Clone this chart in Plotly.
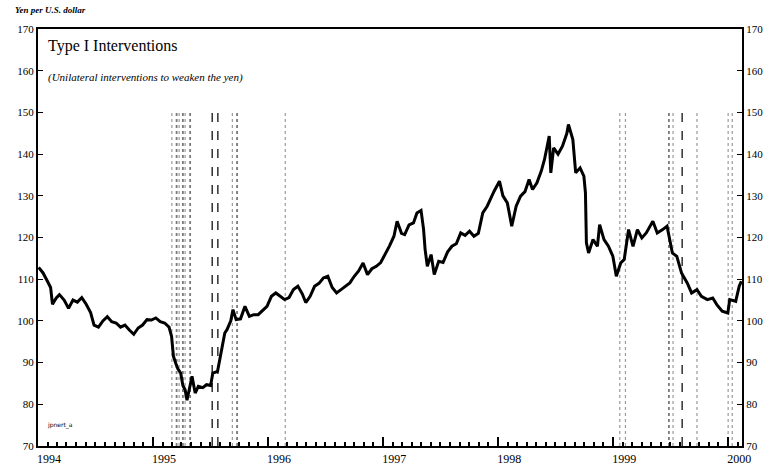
import plotly.graph_objects as go

# Yen per U.S. dollar
dates = [
    "1994-01-03","1994-01-17","1994-01-31","1994-02-10","1994-02-16","1994-02-28","1994-03-10","1994-03-25",
    "1994-04-08","1994-04-22","1994-05-06","1994-05-20","1994-06-03","1994-06-17","1994-06-28","1994-07-12",
    "1994-07-26","1994-08-09","1994-08-23","1994-09-06","1994-09-20","1994-10-04","1994-10-18","1994-11-01",
    "1994-11-15","1994-11-29","1994-12-13","1994-12-27","1995-01-10","1995-01-24","1995-02-07","1995-02-21",
    "1995-03-01","1995-03-07","1995-03-14","1995-03-21","1995-03-30","1995-04-06","1995-04-13","1995-04-19",
    "1995-04-26","1995-05-05","1995-05-15","1995-05-25","1995-06-08","1995-06-20","1995-07-03","1995-07-10",
    "1995-07-25","1995-08-03","1995-08-10","1995-08-17","1995-08-24","1995-09-05","1995-09-12","1995-09-22",
    "1995-10-06","1995-10-20","1995-11-03","1995-11-17","1995-12-01","1995-12-15","1995-12-29","1996-01-12",
    "1996-01-26","1996-02-09","1996-02-23","1996-03-08","1996-03-22","1996-04-05","1996-04-19","1996-04-30",
    "1996-05-14","1996-05-28","1996-06-11","1996-06-25","1996-07-09","1996-07-23","1996-08-06","1996-08-20",
    "1996-09-03","1996-09-17","1996-10-01","1996-10-15","1996-10-29","1996-11-12","1996-11-26","1996-12-10",
    "1996-12-24","1997-01-07","1997-01-21","1997-02-04","1997-02-14","1997-02-28","1997-03-10","1997-03-24",
    "1997-04-07","1997-04-18","1997-05-01","1997-05-09","1997-05-14","1997-05-21","1997-06-02","1997-06-12",
    "1997-06-26","1997-07-10","1997-07-24","1997-08-07","1997-08-21","1997-09-04","1997-09-18","1997-10-02",
    "1997-10-16","1997-10-30","1997-11-13","1997-11-27","1997-12-11","1997-12-19","1998-01-05","1998-01-16",
    "1998-01-30","1998-02-13","1998-02-27","1998-03-13","1998-03-27","1998-04-09","1998-04-20","1998-05-04",
    "1998-05-18","1998-05-28","1998-06-12","1998-06-17","1998-06-26","1998-07-10","1998-07-24","1998-08-07",
    "1998-08-12","1998-08-26","1998-09-04","1998-09-18","1998-09-30","1998-10-05","1998-10-08","1998-10-15",
    "1998-10-29","1998-11-12","1998-11-19","1998-12-03","1998-12-17","1998-12-31","1999-01-11","1999-01-25",
    "1999-02-05","1999-02-19","1999-03-05","1999-03-19","1999-04-02","1999-04-16","1999-05-07","1999-05-21",
    "1999-06-07","1999-06-21","1999-07-08","1999-07-22","1999-08-06","1999-08-24","1999-09-07","1999-09-24",
    "1999-10-08","1999-10-27","1999-11-13","1999-11-26","1999-12-13","1999-12-31","2000-01-06","2000-01-25",
    "2000-02-05","2000-02-12",
]
yen = [
    112.8,111.5,109.5,108.0,104.0,105.5,106.3,105.0,
    103.0,105.0,104.5,105.6,104.0,102.0,99.0,98.5,
    100.0,101.0,99.8,99.5,98.5,99.0,97.8,96.8,
    98.3,99.0,100.3,100.2,100.7,99.8,99.5,98.5,
    96.3,91.5,89.9,88.5,87.5,84.5,83.5,81.0,
    83.5,86.7,82.7,84.3,84.0,84.7,84.5,87.5,
    87.9,91.5,95.0,97.1,97.9,100.0,102.7,100.3,
    100.5,103.5,101.1,101.5,101.5,102.5,103.5,105.9,
    106.7,105.9,105.1,105.6,107.5,108.3,106.5,104.4,
    105.9,108.3,109.0,110.3,110.7,108.0,106.7,107.5,
    108.3,109.1,110.7,112.0,113.9,111.1,112.5,113.1,
    114.0,115.9,118.0,120.3,123.9,121.0,120.7,123.0,
    123.5,125.9,126.5,122.0,117.1,113.1,115.9,111.1,
    114.3,114.0,116.5,117.9,118.5,121.1,120.5,121.5,
    120.3,121.0,125.9,127.5,129.9,131.1,133.5,130.0,
    128.3,122.7,127.5,129.9,131.0,133.9,131.5,133.1,
    136.0,138.7,144.3,135.5,141.5,140.0,141.9,145.0,
    147.1,143.5,135.5,136.7,134.7,130.7,118.7,116.3,
    119.5,117.9,123.1,119.5,117.9,115.5,110.7,113.9,
    114.7,121.9,117.9,121.9,119.9,121.1,123.9,121.1,
    121.9,122.7,116.3,115.5,111.5,109.1,106.7,107.5,
    105.9,105.1,105.5,103.9,102.3,101.9,105.1,104.7,
    108.3,109.5,
]

# Intervention dates, grouped by line style
iv_light = ["1995-03-02","1995-03-25","1995-04-13","1995-09-10","1996-02-25",
            "1999-01-22","1999-02-09","1999-07-10","1999-09-24","2000-01-01","2000-01-14"]
iv_dense = ["1995-03-17","1995-04-06","1995-04-29","1995-09-25","1999-06-27"]
iv_dash = ["1995-07-08","1995-07-26","1999-08-08"]
iv_low, iv_high = 70, 150

def vlines(ds):
    xs, ys = [], []
    for d in ds:
        xs += [d, d, None]
        ys += [iv_low, iv_high, None]
    return xs, ys

fig = go.Figure()
for ds, col, dash, w in [(iv_light, "#9a9a9a", "dot", 1.2),
                         (iv_dense, "#7a7a7a", "dot", 1.8),
                         (iv_dash, "#111111", "dash", 1.3)]:
    xs, ys = vlines(ds)
    fig.add_trace(go.Scatter(x=xs, y=ys, mode="lines", showlegend=False, hoverinfo="skip",
                             line=dict(color=col, width=w, dash=dash)))

fig.add_trace(go.Scatter(x=dates, y=yen, mode="lines", showlegend=False,
                         line=dict(color="black", width=3)))
# invisible trace for right axis
fig.add_trace(go.Scatter(x=[dates[0]], y=[yen[0]], yaxis="y2", mode="lines",
                         showlegend=False, opacity=0, hoverinfo="skip"))

serif = "Liberation Serif"
fig.update_layout(
    width=767, height=469,
    margin=dict(l=38, r=25, t=29, b=23, autoexpand=False),
    paper_bgcolor="white", plot_bgcolor="white",
    font=dict(family=serif, color="black", size=11),
    xaxis=dict(
        type="date", range=["1994-01-01", "2000-02-14"], automargin=False,
        dtick="M12", tick0="1994-01-01", tickformat="%Y",
        ticks="inside", ticklen=9, tickwidth=1.5, tickcolor="black",
        showline=True, linecolor="black", linewidth=2, mirror=True,
        showgrid=False, zeroline=False,
        ticklabelshift=11, ticklabelstandoff=1,
        tickfont=dict(family=serif, size=12, color="black"),
        minor=dict(dtick="M1", ticks="inside", ticklen=4, tickcolor="black", showgrid=False),
    ),
    yaxis=dict(
        range=[70, 170], dtick=10, ticks="inside", ticklen=5, tickcolor="black", automargin=False,
        showline=True, linecolor="black", linewidth=2, showgrid=False, zeroline=False,
        tickfont=dict(family=serif, size=11, color="black"),
    ),
    yaxis2=dict(
        range=[70, 170], dtick=10, overlaying="y", side="right", ticks="inside", ticklen=5,
        tickcolor="black", showline=True, linecolor="black", linewidth=2, automargin=False,
        showgrid=False, zeroline=False, tickfont=dict(family=serif, size=11, color="black"),
    ),
    annotations=[
        dict(text="<b><i>Yen per U.S. dollar</i></b>", xref="paper", yref="paper",
             x=-0.036, y=1.046, xanchor="left", yanchor="middle", showarrow=False,
             font=dict(family=serif, size=9, color="black")),
        dict(text="Type I Interventions", xref="paper", yref="paper",
             x=0.012, y=0.985, xanchor="left", yanchor="top", showarrow=False,
             font=dict(family=serif, size=16, color="black")),
        dict(text="<i>(Unilateral interventions to weaken the yen)</i>", xref="paper", yref="paper",
             x=0.012, y=0.905, xanchor="left", yanchor="top", showarrow=False,
             font=dict(family=serif, size=11, color="black")),
        dict(text="jpnert_a", xref="paper", yref="paper",
             x=0.01, y=0.035, xanchor="left", yanchor="bottom", showarrow=False,
             font=dict(family="DejaVu Sans", size=6, color="black")),
    ],
)

fig.write_html("out.html", config={"displayModeBar": False},
               post_script="document.body.style.margin='0';")
